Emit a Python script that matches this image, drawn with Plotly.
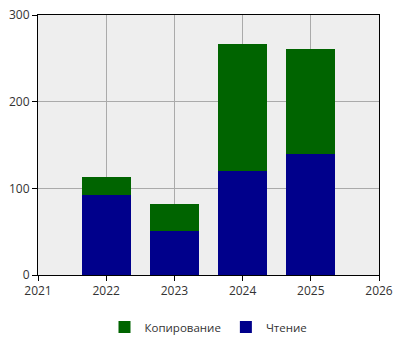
import plotly.graph_objects as go

years = [2022, 2023, 2024, 2025]
reading = [92, 51, 120, 140]
copying = [21, 31, 147, 121]
tick_vals = [2021, 2022, 2023, 2024, 2025, 2026]

fig = go.Figure()
fig.add_trace(go.Bar(x=years, y=reading, name="Чтение", marker=dict(color="#00008B", line=dict(width=0)), width=0.72))
fig.add_trace(go.Bar(x=years, y=copying, name="Копирование", marker=dict(color="#006400", line=dict(width=0)), width=0.72))

fig.update_layout(
    width=400, height=350,
    barmode="stack",
    margin=dict(l=38, r=21, t=15, b=75, autoexpand=False),
    paper_bgcolor="white",
    plot_bgcolor="#EEEEEE",
    font=dict(family="Open Sans, Noto Sans, sans-serif", size=12, color="#333333"),
    legend=dict(orientation="h", x=0.5, xanchor="center", y=-0.2, yanchor="middle",
                traceorder="reversed", font=dict(size=11.5), itemclick=False, itemwidth=30),
    xaxis=dict(range=[2021, 2026], tickvals=tick_vals, ticktext=[str(v) for v in tick_vals],
               showgrid=True, gridcolor="#AAAAAA", gridwidth=1, automargin=False,
               showline=True, linecolor="black", linewidth=1, mirror=True,
               ticks="outside", ticklen=5, tickcolor="black", zeroline=False),
    yaxis=dict(range=[0, 300], dtick=100, showgrid=True, gridcolor="#AAAAAA", gridwidth=1,
               automargin=False,
               showline=True, linecolor="black", linewidth=1, mirror=True,
               ticks="outside", ticklen=5, tickcolor="black", zeroline=False),
)
fig.write_html("out.html")
